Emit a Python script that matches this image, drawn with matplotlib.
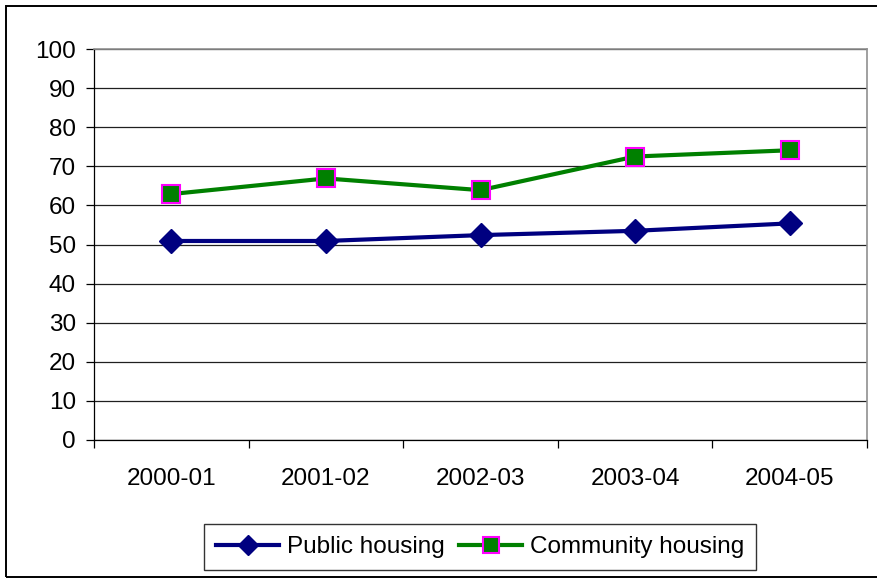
import matplotlib.pyplot as plt
from matplotlib.patches import Rectangle
import numpy as np

years = ['2000-01', '2001-02', '2002-03', '2003-04', '2004-05']
public = [50.9, 50.9, 52.4, 53.5, 55.4]
community = [62.9, 66.9, 63.9, 72.5, 74.1]

plt.rcParams['font.family'] = ['Liberation Sans', 'DejaVu Sans']

fig = plt.figure(figsize=(8.77, 5.79), dpi=100)
ax = fig.add_axes([94/877, 139/579, 773/877, 391/579])

x = np.arange(len(years))
ax.plot(x, public, color='#000080', lw=3, marker='D', ms=12.5,
        mfc='#000080', mec='#000080', label='Public housing', zorder=3)
ax.plot(x, community, color='#008000', lw=3, marker='s', ms=13.5,
        mfc='#008000', mec='#ff00ff', mew=1.5, label='Community housing', zorder=3)

ax.set_xlim(-0.5, len(years) - 0.5)
ax.set_ylim(0, 100)
ax.set_yticks(range(0, 101, 10))
ax.yaxis.grid(True, color='#202020', lw=0.9)
ax.set_axisbelow(True)

# category labels sit between the boundary ticks
ax.set_xticks(x)
ax.set_xticklabels(years)
ax.set_xticks(np.arange(-0.5, len(years)), minor=True)
ax.tick_params(axis='x', which='major', length=0, pad=20, labelsize=17.5)
ax.tick_params(axis='x', which='minor', length=6, width=0.9, direction='out')
ax.tick_params(axis='y', length=6, width=0.9, direction='out', pad=7, labelsize=17.5)

for s in ['top', 'right']:
    ax.spines[s].set_color('#909090')
    ax.spines[s].set_linewidth(1.2)
    ax.spines[s].set_zorder(2.5)
for s in ['left', 'bottom']:
    ax.spines[s].set_linewidth(0.9)

leg = fig.legend(loc='center', bbox_to_anchor=(480/877, 1 - 547/579), ncol=2,
                 fontsize=17.5, frameon=True, fancybox=False, edgecolor='black',
                 handlelength=2.6, handletextpad=0.3, columnspacing=0.6,
                 borderpad=0.5, markerscale=0.85)
leg.get_frame().set_linewidth(1.0)

# chart border; its right side runs past the edge of the image
fig.patches.append(Rectangle((6/877, 2/579), 880/877, 571/579, transform=fig.transFigure,
                             fill=False, edgecolor='black', lw=1.4))

fig.savefig('out.png', dpi=100)
